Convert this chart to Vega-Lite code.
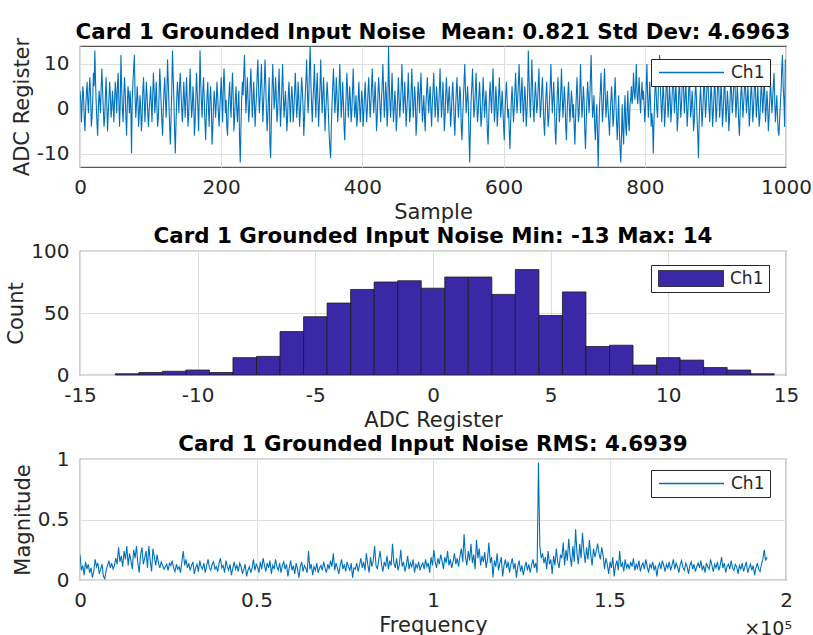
{
"$schema": "https://vega.github.io/schema/vega-lite/v6.json",
"background": "white",
"padding": {"left": 5, "top": 21, "right": 5, "bottom": 5},
"bounds": "flush",
"spacing": 84,
"resolve": {"scale": {"color": "independent"}, "legend": {"color": "independent"}},
"config": {
  "font": "DejaVu Sans",
  "view": {"stroke": "#595959", "strokeWidth": 1.2},
  "axis": {"labelFont": "DejaVu Sans", "labelFontSize": 20, "labelColor": "#262626", "titleFont": "DejaVu Sans", "titleFontSize": 21, "titleFontWeight": "normal", "titleColor": "#262626", "domain": false, "ticks": false, "gridColor": "#dedede", "gridWidth": 1, "labelFlush": false, "labelOverlap": false, "labelExpr": "'' + datum.value"},
  "axisX": {"labelPadding": 10, "titlePadding": 4},
  "axisY": {"labelPadding": 11, "titlePadding": 4},
  "title": {"font": "DejaVu Sans", "fontSize": 21.4, "fontWeight": "bold", "color": "#000000", "offset": -6, "anchor": "middle", "frame": "group"},
  "legend": {"orient": "none", "fillColor": "white", "strokeColor": "#262626", "padding": 5, "clipHeight": 17, "labelFont": "DejaVu Sans", "labelFontSize": 17, "labelColor": "#262626", "labelOffset": 6, "symbolOffset": 2, "symbolSize": 4225, "title": null, "labelExpr": "datum.label + '\u00a0\u00a0'"}
},
"datasets": {
"ts": [
{"s":0,"v":4},{"s":1,"v":2},{"s":2,"v":-3},{"s":3,"v":1},{"s":4,"v":5},{"s":5,"v":3},{"s":6,"v":-2},{"s":7,"v":-5},{"s":8,"v":0},{"s":9,"v":3},
{"s":10,"v":6},{"s":11,"v":2},{"s":12,"v":-1},{"s":13,"v":4},{"s":14,"v":7},{"s":15,"v":3},{"s":16,"v":-4},{"s":17,"v":-2},{"s":18,"v":2},{"s":19,"v":8},
{"s":20,"v":5},{"s":21,"v":13},{"s":22,"v":6},{"s":23,"v":1},{"s":24,"v":-3},{"s":25,"v":-6},{"s":26,"v":0},{"s":27,"v":4},{"s":28,"v":2},{"s":29,"v":-1},
{"s":30,"v":5},{"s":31,"v":9},{"s":32,"v":4},{"s":33,"v":0},{"s":34,"v":-4},{"s":35,"v":-2},{"s":36,"v":3},{"s":37,"v":7},{"s":38,"v":1},{"s":39,"v":-5},
{"s":40,"v":-1},{"s":41,"v":2},{"s":42,"v":6},{"s":43,"v":3},{"s":44,"v":-2},{"s":45,"v":0},{"s":46,"v":4},{"s":47,"v":1},{"s":48,"v":-3},{"s":49,"v":2},
{"s":50,"v":6},{"s":51,"v":3},{"s":52,"v":-1},{"s":53,"v":5},{"s":54,"v":8},{"s":55,"v":2},{"s":56,"v":-4},{"s":57,"v":1},{"s":58,"v":12},{"s":59,"v":5},
{"s":60,"v":0},{"s":61,"v":-3},{"s":62,"v":2},{"s":63,"v":7},{"s":64,"v":4},{"s":65,"v":-2},{"s":66,"v":-6},{"s":67,"v":1},{"s":68,"v":5},{"s":69,"v":3},
{"s":70,"v":-1},{"s":71,"v":4},{"s":72,"v":0},{"s":73,"v":-10},{"s":74,"v":2},{"s":75,"v":6},{"s":76,"v":9},{"s":77,"v":12},{"s":78,"v":3},{"s":79,"v":-2},
{"s":80,"v":1},{"s":81,"v":5},{"s":82,"v":2},{"s":83,"v":-4},{"s":84,"v":-1},{"s":85,"v":3},{"s":86,"v":0},{"s":87,"v":-5},{"s":88,"v":-2},{"s":89,"v":4},
{"s":90,"v":7},{"s":91,"v":2},{"s":92,"v":-3},{"s":93,"v":1},{"s":94,"v":6},{"s":95,"v":3},{"s":96,"v":-1},{"s":97,"v":-4},{"s":98,"v":0},{"s":99,"v":2},
{"s":100,"v":5},{"s":101,"v":1},{"s":102,"v":-3},{"s":103,"v":3},{"s":104,"v":8},{"s":105,"v":4},{"s":106,"v":-1},{"s":107,"v":2},{"s":108,"v":6},{"s":109,"v":0},
{"s":110,"v":-4},{"s":111,"v":-2},{"s":112,"v":3},{"s":113,"v":9},{"s":114,"v":5},{"s":115,"v":1},{"s":116,"v":-3},{"s":117,"v":-6},{"s":118,"v":0},{"s":119,"v":4},
{"s":120,"v":7},{"s":121,"v":2},{"s":122,"v":-2},{"s":123,"v":3},{"s":124,"v":11},{"s":125,"v":6},{"s":126,"v":1},{"s":127,"v":-4},{"s":128,"v":-8},{"s":129,"v":-2},
{"s":130,"v":4},{"s":131,"v":13},{"s":132,"v":7},{"s":133,"v":2},{"s":134,"v":-5},{"s":135,"v":-10},{"s":136,"v":-3},{"s":137,"v":2},{"s":138,"v":6},{"s":139,"v":3},
{"s":140,"v":-1},{"s":141,"v":5},{"s":142,"v":8},{"s":143,"v":4},{"s":144,"v":0},{"s":145,"v":-3},{"s":146,"v":1},{"s":147,"v":6},{"s":148,"v":2},{"s":149,"v":-2},
{"s":150,"v":3},{"s":151,"v":7},{"s":152,"v":1},{"s":153,"v":-4},{"s":154,"v":-1},{"s":155,"v":4},{"s":156,"v":9},{"s":157,"v":3},{"s":158,"v":-2},{"s":159,"v":0},
{"s":160,"v":5},{"s":161,"v":2},{"s":162,"v":-6},{"s":163,"v":-3},{"s":164,"v":2},{"s":165,"v":8},{"s":166,"v":4},{"s":167,"v":0},{"s":168,"v":-5},{"s":169,"v":3},
{"s":170,"v":13},{"s":171,"v":6},{"s":172,"v":1},{"s":173,"v":-2},{"s":174,"v":4},{"s":175,"v":7},{"s":176,"v":2},{"s":177,"v":-3},{"s":178,"v":-7},{"s":179,"v":-1},
{"s":180,"v":3},{"s":181,"v":6},{"s":182,"v":0},{"s":183,"v":-4},{"s":184,"v":2},{"s":185,"v":5},{"s":186,"v":1},{"s":187,"v":-8},{"s":188,"v":-5},{"s":189,"v":0},
{"s":190,"v":4},{"s":191,"v":2},{"s":192,"v":-2},{"s":193,"v":1},{"s":194,"v":6},{"s":195,"v":3},{"s":196,"v":-1},{"s":197,"v":-4},{"s":198,"v":0},{"s":199,"v":3},
{"s":200,"v":7},{"s":201,"v":2},{"s":202,"v":-3},{"s":203,"v":5},{"s":204,"v":9},{"s":205,"v":4},{"s":206,"v":-1},{"s":207,"v":2},{"s":208,"v":-4},{"s":209,"v":-6},
{"s":210,"v":0},{"s":211,"v":3},{"s":212,"v":6},{"s":213,"v":1},{"s":214,"v":-2},{"s":215,"v":4},{"s":216,"v":8},{"s":217,"v":3},{"s":218,"v":-5},{"s":219,"v":-2},
{"s":220,"v":2},{"s":221,"v":5},{"s":222,"v":0},{"s":223,"v":-3},{"s":224,"v":1},{"s":225,"v":4},{"s":226,"v":-7},{"s":227,"v":-12},{"s":228,"v":-4},{"s":229,"v":2},
{"s":230,"v":6},{"s":231,"v":3},{"s":232,"v":8},{"s":233,"v":12},{"s":234,"v":5},{"s":235,"v":-1},{"s":236,"v":3},{"s":237,"v":7},{"s":238,"v":2},{"s":239,"v":-3},
{"s":240,"v":0},{"s":241,"v":5},{"s":242,"v":9},{"s":243,"v":4},{"s":244,"v":-2},{"s":245,"v":1},{"s":246,"v":6},{"s":247,"v":2},{"s":248,"v":-4},{"s":249,"v":0},
{"s":250,"v":3},{"s":251,"v":8},{"s":252,"v":11},{"s":253,"v":4},{"s":254,"v":-1},{"s":255,"v":2},{"s":256,"v":6},{"s":257,"v":10},{"s":258,"v":3},{"s":259,"v":-3},
{"s":260,"v":1},{"s":261,"v":5},{"s":262,"v":11},{"s":263,"v":6},{"s":264,"v":0},{"s":265,"v":-5},{"s":266,"v":-2},{"s":267,"v":3},{"s":268,"v":7},{"s":269,"v":-8},
{"s":270,"v":-11},{"s":271,"v":-3},{"s":272,"v":4},{"s":273,"v":10},{"s":274,"v":5},{"s":275,"v":0},{"s":276,"v":2},{"s":277,"v":7},{"s":278,"v":3},{"s":279,"v":-3},
{"s":280,"v":-1},{"s":281,"v":4},{"s":282,"v":9},{"s":283,"v":2},{"s":284,"v":-4},{"s":285,"v":0},{"s":286,"v":5},{"s":287,"v":10},{"s":288,"v":3},{"s":289,"v":-2},
{"s":290,"v":1},{"s":291,"v":4},{"s":292,"v":0},{"s":293,"v":-5},{"s":294,"v":-2},{"s":295,"v":3},{"s":296,"v":6},{"s":297,"v":1},{"s":298,"v":-3},{"s":299,"v":2},
{"s":300,"v":5},{"s":301,"v":2},{"s":302,"v":-3},{"s":303,"v":0},{"s":304,"v":4},{"s":305,"v":8},{"s":306,"v":3},{"s":307,"v":-2},{"s":308,"v":1},{"s":309,"v":6},
{"s":310,"v":2},{"s":311,"v":-4},{"s":312,"v":-1},{"s":313,"v":3},{"s":314,"v":7},{"s":315,"v":4},{"s":316,"v":0},{"s":317,"v":-6},{"s":318,"v":-2},{"s":319,"v":3},
{"s":320,"v":6},{"s":321,"v":11},{"s":322,"v":5},{"s":323,"v":-1},{"s":324,"v":2},{"s":325,"v":9},{"s":326,"v":14},{"s":327,"v":6},{"s":328,"v":1},{"s":329,"v":-3},
{"s":330,"v":2},{"s":331,"v":5},{"s":332,"v":10},{"s":333,"v":3},{"s":334,"v":-2},{"s":335,"v":4},{"s":336,"v":8},{"s":337,"v":2},{"s":338,"v":-4},{"s":339,"v":1},
{"s":340,"v":5},{"s":341,"v":11},{"s":342,"v":4},{"s":343,"v":-1},{"s":344,"v":3},{"s":345,"v":7},{"s":346,"v":2},{"s":347,"v":-5},{"s":348,"v":-1},{"s":349,"v":2},
{"s":350,"v":6},{"s":351,"v":3},{"s":352,"v":-2},{"s":353,"v":-6},{"s":354,"v":-9},{"s":355,"v":-11},{"s":356,"v":-4},{"s":357,"v":1},{"s":358,"v":5},{"s":359,"v":9},
{"s":360,"v":4},{"s":361,"v":-1},{"s":362,"v":2},{"s":363,"v":7},{"s":364,"v":3},{"s":365,"v":-3},{"s":366,"v":0},{"s":367,"v":5},{"s":368,"v":10},{"s":369,"v":4},
{"s":370,"v":-2},{"s":371,"v":1},{"s":372,"v":6},{"s":373,"v":2},{"s":374,"v":-4},{"s":375,"v":-7},{"s":376,"v":-1},{"s":377,"v":3},{"s":378,"v":8},{"s":379,"v":4},
{"s":380,"v":-2},{"s":381,"v":1},{"s":382,"v":5},{"s":383,"v":2},{"s":384,"v":-3},{"s":385,"v":-1},{"s":386,"v":4},{"s":387,"v":9},{"s":388,"v":3},{"s":389,"v":-2},
{"s":390,"v":0},{"s":391,"v":3},{"s":392,"v":-4},{"s":393,"v":-2},{"s":394,"v":2},{"s":395,"v":6},{"s":396,"v":1},{"s":397,"v":-3},{"s":398,"v":0},{"s":399,"v":4},
{"s":400,"v":2},{"s":401,"v":-4},{"s":402,"v":-1},{"s":403,"v":3},{"s":404,"v":6},{"s":405,"v":1},{"s":406,"v":-3},{"s":407,"v":0},{"s":408,"v":4},{"s":409,"v":7},
{"s":410,"v":2},{"s":411,"v":-2},{"s":412,"v":1},{"s":413,"v":5},{"s":414,"v":9},{"s":415,"v":3},{"s":416,"v":-1},{"s":417,"v":2},{"s":418,"v":6},{"s":419,"v":1},
{"s":420,"v":-5},{"s":421,"v":-2},{"s":422,"v":3},{"s":423,"v":7},{"s":424,"v":4},{"s":425,"v":0},{"s":426,"v":-3},{"s":427,"v":2},{"s":428,"v":5},{"s":429,"v":10},
{"s":430,"v":4},{"s":431,"v":-2},{"s":432,"v":1},{"s":433,"v":6},{"s":434,"v":3},{"s":435,"v":-4},{"s":436,"v":-1},{"s":437,"v":14},{"s":438,"v":6},{"s":439,"v":1},
{"s":440,"v":-2},{"s":441,"v":3},{"s":442,"v":8},{"s":443,"v":2},{"s":444,"v":-3},{"s":445,"v":0},{"s":446,"v":4},{"s":447,"v":1},{"s":448,"v":-5},{"s":449,"v":-2},
{"s":450,"v":3},{"s":451,"v":7},{"s":452,"v":2},{"s":453,"v":-2},{"s":454,"v":1},{"s":455,"v":5},{"s":456,"v":10},{"s":457,"v":4},{"s":458,"v":-1},{"s":459,"v":2},
{"s":460,"v":6},{"s":461,"v":1},{"s":462,"v":-4},{"s":463,"v":0},{"s":464,"v":3},{"s":465,"v":8},{"s":466,"v":2},{"s":467,"v":-3},{"s":468,"v":-1},{"s":469,"v":4},
{"s":470,"v":9},{"s":471,"v":3},{"s":472,"v":-2},{"s":473,"v":1},{"s":474,"v":5},{"s":475,"v":2},{"s":476,"v":-6},{"s":477,"v":-3},{"s":478,"v":2},{"s":479,"v":6},
{"s":480,"v":3},{"s":481,"v":-1},{"s":482,"v":4},{"s":483,"v":8},{"s":484,"v":2},{"s":485,"v":-3},{"s":486,"v":0},{"s":487,"v":3},{"s":488,"v":-2},{"s":489,"v":-5},
{"s":490,"v":1},{"s":491,"v":4},{"s":492,"v":7},{"s":493,"v":2},{"s":494,"v":-1},{"s":495,"v":3},{"s":496,"v":5},{"s":497,"v":0},{"s":498,"v":-4},{"s":499,"v":1},
{"s":500,"v":4},{"s":501,"v":8},{"s":502,"v":3},{"s":503,"v":-2},{"s":504,"v":1},{"s":505,"v":5},{"s":506,"v":2},{"s":507,"v":-3},{"s":508,"v":0},{"s":509,"v":4},
{"s":510,"v":9},{"s":511,"v":3},{"s":512,"v":-2},{"s":513,"v":1},{"s":514,"v":6},{"s":515,"v":2},{"s":516,"v":-5},{"s":517,"v":-2},{"s":518,"v":3},{"s":519,"v":7},
{"s":520,"v":3},{"s":521,"v":-1},{"s":522,"v":2},{"s":523,"v":5},{"s":524,"v":1},{"s":525,"v":-4},{"s":526,"v":-1},{"s":527,"v":3},{"s":528,"v":6},{"s":529,"v":2},
{"s":530,"v":-3},{"s":531,"v":-6},{"s":532,"v":0},{"s":533,"v":4},{"s":534,"v":7},{"s":535,"v":2},{"s":536,"v":-2},{"s":537,"v":1},{"s":538,"v":5},{"s":539,"v":3},
{"s":540,"v":-4},{"s":541,"v":-7},{"s":542,"v":-2},{"s":543,"v":2},{"s":544,"v":6},{"s":545,"v":10},{"s":546,"v":4},{"s":547,"v":-1},{"s":548,"v":2},{"s":549,"v":5},
{"s":550,"v":1},{"s":551,"v":-6},{"s":552,"v":-12},{"s":553,"v":-4},{"s":554,"v":2},{"s":555,"v":5},{"s":556,"v":9},{"s":557,"v":3},{"s":558,"v":-2},{"s":559,"v":0},
{"s":560,"v":4},{"s":561,"v":8},{"s":562,"v":2},{"s":563,"v":-3},{"s":564,"v":-1},{"s":565,"v":3},{"s":566,"v":6},{"s":567,"v":1},{"s":568,"v":-4},{"s":569,"v":-2},
{"s":570,"v":2},{"s":571,"v":7},{"s":572,"v":3},{"s":573,"v":-2},{"s":574,"v":1},{"s":575,"v":4},{"s":576,"v":0},{"s":577,"v":-5},{"s":578,"v":-8},{"s":579,"v":-2},
{"s":580,"v":3},{"s":581,"v":6},{"s":582,"v":2},{"s":583,"v":-1},{"s":584,"v":4},{"s":585,"v":9},{"s":586,"v":3},{"s":587,"v":-3},{"s":588,"v":0},{"s":589,"v":5},
{"s":590,"v":2},{"s":591,"v":-4},{"s":592,"v":-1},{"s":593,"v":3},{"s":594,"v":7},{"s":595,"v":2},{"s":596,"v":-2},{"s":597,"v":1},{"s":598,"v":4},{"s":599,"v":0},
{"s":600,"v":-4},{"s":601,"v":-7},{"s":602,"v":-1},{"s":603,"v":3},{"s":604,"v":6},{"s":605,"v":2},{"s":606,"v":-2},{"s":607,"v":0},{"s":608,"v":-5},{"s":609,"v":-9},
{"s":610,"v":-3},{"s":611,"v":2},{"s":612,"v":5},{"s":613,"v":1},{"s":614,"v":-3},{"s":615,"v":0},{"s":616,"v":4},{"s":617,"v":8},{"s":618,"v":3},{"s":619,"v":-1},
{"s":620,"v":2},{"s":621,"v":6},{"s":622,"v":10},{"s":623,"v":4},{"s":624,"v":-1},{"s":625,"v":3},{"s":626,"v":7},{"s":627,"v":2},{"s":628,"v":-3},{"s":629,"v":1},
{"s":630,"v":5},{"s":631,"v":2},{"s":632,"v":-4},{"s":633,"v":-1},{"s":634,"v":3},{"s":635,"v":13},{"s":636,"v":7},{"s":637,"v":2},{"s":638,"v":-2},{"s":639,"v":4},
{"s":640,"v":11},{"s":641,"v":5},{"s":642,"v":0},{"s":643,"v":-3},{"s":644,"v":2},{"s":645,"v":6},{"s":646,"v":3},{"s":647,"v":-1},{"s":648,"v":1},{"s":649,"v":5},
{"s":650,"v":9},{"s":651,"v":3},{"s":652,"v":-2},{"s":653,"v":0},{"s":654,"v":4},{"s":655,"v":7},{"s":656,"v":2},{"s":657,"v":-3},{"s":658,"v":-6},{"s":659,"v":-1},
{"s":660,"v":3},{"s":661,"v":6},{"s":662,"v":1},{"s":663,"v":-4},{"s":664,"v":-2},{"s":665,"v":2},{"s":666,"v":5},{"s":667,"v":10},{"s":668,"v":4},{"s":669,"v":-1},
{"s":670,"v":2},{"s":671,"v":6},{"s":672,"v":1},{"s":673,"v":-5},{"s":674,"v":-8},{"s":675,"v":-2},{"s":676,"v":3},{"s":677,"v":7},{"s":678,"v":2},{"s":679,"v":-3},
{"s":680,"v":0},{"s":681,"v":4},{"s":682,"v":9},{"s":683,"v":3},{"s":684,"v":-2},{"s":685,"v":1},{"s":686,"v":5},{"s":687,"v":2},{"s":688,"v":-4},{"s":689,"v":-7},
{"s":690,"v":-1},{"s":691,"v":3},{"s":692,"v":6},{"s":693,"v":1},{"s":694,"v":-3},{"s":695,"v":0},{"s":696,"v":4},{"s":697,"v":2},{"s":698,"v":-2},{"s":699,"v":1},
{"s":700,"v":-4},{"s":701,"v":-8},{"s":702,"v":-2},{"s":703,"v":3},{"s":704,"v":7},{"s":705,"v":2},{"s":706,"v":-3},{"s":707,"v":-1},{"s":708,"v":4},{"s":709,"v":10},
{"s":710,"v":3},{"s":711,"v":-2},{"s":712,"v":1},{"s":713,"v":5},{"s":714,"v":2},{"s":715,"v":-5},{"s":716,"v":-9},{"s":717,"v":-3},{"s":718,"v":2},{"s":719,"v":6},
{"s":720,"v":3},{"s":721,"v":-1},{"s":722,"v":2},{"s":723,"v":7},{"s":724,"v":12},{"s":725,"v":4},{"s":726,"v":-2},{"s":727,"v":0},{"s":728,"v":3},{"s":729,"v":-4},
{"s":730,"v":-7},{"s":731,"v":-2},{"s":732,"v":1},{"s":733,"v":-6},{"s":734,"v":-13},{"s":735,"v":-5},{"s":736,"v":1},{"s":737,"v":4},{"s":738,"v":8},{"s":739,"v":2},
{"s":740,"v":-3},{"s":741,"v":0},{"s":742,"v":5},{"s":743,"v":9},{"s":744,"v":3},{"s":745,"v":-2},{"s":746,"v":1},{"s":747,"v":4},{"s":748,"v":0},{"s":749,"v":-3},
{"s":750,"v":-6},{"s":751,"v":-1},{"s":752,"v":2},{"s":753,"v":5},{"s":754,"v":1},{"s":755,"v":-4},{"s":756,"v":-2},{"s":757,"v":3},{"s":758,"v":7},{"s":759,"v":2},
{"s":760,"v":-3},{"s":761,"v":-7},{"s":762,"v":-2},{"s":763,"v":3},{"s":764,"v":-5},{"s":765,"v":-9},{"s":766,"v":-12},{"s":767,"v":-6},{"s":768,"v":1},{"s":769,"v":-5},
{"s":770,"v":-8},{"s":771,"v":-1},{"s":772,"v":3},{"s":773,"v":-4},{"s":774,"v":-6},{"s":775,"v":0},{"s":776,"v":4},{"s":777,"v":-3},{"s":778,"v":-5},{"s":779,"v":1},
{"s":780,"v":2},{"s":781,"v":5},{"s":782,"v":1},{"s":783,"v":3},{"s":784,"v":8},{"s":785,"v":4},{"s":786,"v":2},{"s":787,"v":5},{"s":788,"v":10},{"s":789,"v":3},
{"s":790,"v":1},{"s":791,"v":4},{"s":792,"v":7},{"s":793,"v":2},{"s":794,"v":-1},{"s":795,"v":3},{"s":796,"v":6},{"s":797,"v":2},{"s":798,"v":4},{"s":799,"v":1},
{"s":800,"v":-3},{"s":801,"v":0},{"s":802,"v":5},{"s":803,"v":10},{"s":804,"v":3},{"s":805,"v":-2},{"s":806,"v":1},{"s":807,"v":6},{"s":808,"v":2},{"s":809,"v":-4},
{"s":810,"v":-1},{"s":811,"v":-3},{"s":812,"v":-10},{"s":813,"v":-3},{"s":814,"v":2},{"s":815,"v":7},{"s":816,"v":4},{"s":817,"v":0},{"s":818,"v":-2},{"s":819,"v":3},
{"s":820,"v":8},{"s":821,"v":12},{"s":822,"v":5},{"s":823,"v":1},{"s":824,"v":-3},{"s":825,"v":2},{"s":826,"v":6},{"s":827,"v":2},{"s":828,"v":-4},{"s":829,"v":-1},
{"s":830,"v":4},{"s":831,"v":9},{"s":832,"v":3},{"s":833,"v":-2},{"s":834,"v":1},{"s":835,"v":5},{"s":836,"v":2},{"s":837,"v":-3},{"s":838,"v":0},{"s":839,"v":4},
{"s":840,"v":10},{"s":841,"v":4},{"s":842,"v":-1},{"s":843,"v":2},{"s":844,"v":6},{"s":845,"v":1},{"s":846,"v":-5},{"s":847,"v":-2},{"s":848,"v":3},{"s":849,"v":7},
{"s":850,"v":2},{"s":851,"v":-2},{"s":852,"v":1},{"s":853,"v":5},{"s":854,"v":11},{"s":855,"v":4},{"s":856,"v":-1},{"s":857,"v":2},{"s":858,"v":6},{"s":859,"v":2},
{"s":860,"v":-4},{"s":861,"v":-1},{"s":862,"v":3},{"s":863,"v":8},{"s":864,"v":3},{"s":865,"v":-2},{"s":866,"v":0},{"s":867,"v":4},{"s":868,"v":1},{"s":869,"v":-5},
{"s":870,"v":-3},{"s":871,"v":2},{"s":872,"v":6},{"s":873,"v":3},{"s":874,"v":-2},{"s":875,"v":-6},{"s":876,"v":-11},{"s":877,"v":-3},{"s":878,"v":2},{"s":879,"v":5},
{"s":880,"v":1},{"s":881,"v":-4},{"s":882,"v":-1},{"s":883,"v":3},{"s":884,"v":8},{"s":885,"v":3},{"s":886,"v":-2},{"s":887,"v":1},{"s":888,"v":5},{"s":889,"v":11},
{"s":890,"v":4},{"s":891,"v":0},{"s":892,"v":-3},{"s":893,"v":2},{"s":894,"v":6},{"s":895,"v":2},{"s":896,"v":-4},{"s":897,"v":-1},{"s":898,"v":3},{"s":899,"v":7},
{"s":900,"v":2},{"s":901,"v":-3},{"s":902,"v":0},{"s":903,"v":5},{"s":904,"v":9},{"s":905,"v":3},{"s":906,"v":-2},{"s":907,"v":1},{"s":908,"v":6},{"s":909,"v":2},
{"s":910,"v":-4},{"s":911,"v":-1},{"s":912,"v":3},{"s":913,"v":8},{"s":914,"v":2},{"s":915,"v":-3},{"s":916,"v":0},{"s":917,"v":4},{"s":918,"v":1},{"s":919,"v":-5},
{"s":920,"v":-2},{"s":921,"v":3},{"s":922,"v":7},{"s":923,"v":3},{"s":924,"v":-1},{"s":925,"v":2},{"s":926,"v":5},{"s":927,"v":10},{"s":928,"v":4},{"s":929,"v":-2},
{"s":930,"v":1},{"s":931,"v":5},{"s":932,"v":2},{"s":933,"v":-3},{"s":934,"v":-6},{"s":935,"v":-1},{"s":936,"v":3},{"s":937,"v":6},{"s":938,"v":2},{"s":939,"v":-2},
{"s":940,"v":1},{"s":941,"v":4},{"s":942,"v":8},{"s":943,"v":3},{"s":944,"v":-1},{"s":945,"v":2},{"s":946,"v":5},{"s":947,"v":1},{"s":948,"v":-4},{"s":949,"v":-1},
{"s":950,"v":3},{"s":951,"v":6},{"s":952,"v":2},{"s":953,"v":-3},{"s":954,"v":0},{"s":955,"v":4},{"s":956,"v":9},{"s":957,"v":3},{"s":958,"v":-2},{"s":959,"v":1},
{"s":960,"v":5},{"s":961,"v":1},{"s":962,"v":-4},{"s":963,"v":-2},{"s":964,"v":2},{"s":965,"v":6},{"s":966,"v":3},{"s":967,"v":-1},{"s":968,"v":2},{"s":969,"v":7},
{"s":970,"v":3},{"s":971,"v":-3},{"s":972,"v":0},{"s":973,"v":4},{"s":974,"v":1},{"s":975,"v":-5},{"s":976,"v":-2},{"s":977,"v":2},{"s":978,"v":6},{"s":979,"v":3},
{"s":980,"v":-1},{"s":981,"v":2},{"s":982,"v":5},{"s":983,"v":8},{"s":984,"v":2},{"s":985,"v":-3},{"s":986,"v":0},{"s":987,"v":3},{"s":988,"v":-2},{"s":989,"v":-5},
{"s":990,"v":-6},{"s":991,"v":-2},{"s":992,"v":1},{"s":993,"v":4},{"s":994,"v":9},{"s":995,"v":12},{"s":996,"v":5},{"s":997,"v":2},{"s":998,"v":-4},{"s":999,"v":11}
],
"hist": [
{"lo":-13.5,"hi":-12.5,"c":1},{"lo":-12.5,"hi":-11.5,"c":2},{"lo":-11.5,"hi":-10.5,"c":3},{"lo":-10.5,"hi":-9.5,"c":4},{"lo":-9.5,"hi":-8.5,"c":2},
{"lo":-8.5,"hi":-7.5,"c":14},{"lo":-7.5,"hi":-6.5,"c":15},{"lo":-6.5,"hi":-5.5,"c":35},{"lo":-5.5,"hi":-4.5,"c":47},{"lo":-4.5,"hi":-3.5,"c":58},
{"lo":-3.5,"hi":-2.5,"c":69},{"lo":-2.5,"hi":-1.5,"c":75},{"lo":-1.5,"hi":-0.5,"c":76},{"lo":-0.5,"hi":0.5,"c":70},{"lo":0.5,"hi":1.5,"c":79},
{"lo":1.5,"hi":2.5,"c":79},{"lo":2.5,"hi":3.5,"c":65},{"lo":3.5,"hi":4.5,"c":85},{"lo":4.5,"hi":5.5,"c":48},{"lo":5.5,"hi":6.5,"c":67},
{"lo":6.5,"hi":7.5,"c":23},{"lo":7.5,"hi":8.5,"c":24},{"lo":8.5,"hi":9.5,"c":8},{"lo":9.5,"hi":10.5,"c":14},{"lo":10.5,"hi":11.5,"c":12},
{"lo":11.5,"hi":12.5,"c":6},{"lo":12.5,"hi":13.5,"c":4},{"lo":13.5,"hi":14.5,"c":1}
],
"fft": [
{"f":0,"m":0.21},{"f":390,"m":0.08},{"f":780,"m":0.12},{"f":1170,"m":0.04},{"f":1560,"m":0.15},{"f":1950,"m":0.09},{"f":2340,"m":0.13},{"f":2730,"m":0.06},{"f":3120,"m":0.10},{"f":3510,"m":0.02},{"f":3900,"m":0.07},{"f":4290,"m":0.17},{"f":4680,"m":0.11},{"f":5070,"m":0.14},{"f":5460,"m":0.05},{"f":5850,"m":0.09},{"f":6240,"m":0.13},{"f":6630,"m":0.03},{"f":7020,"m":0.01},{"f":7410,"m":0.08},{"f":7800,"m":0.12},{"f":8190,"m":0.16},{"f":8580,"m":0.10},{"f":8970,"m":0.14},{"f":9360,"m":0.09},
{"f":9750,"m":0.12},{"f":10140,"m":0.18},{"f":10530,"m":0.13},{"f":10920,"m":0.27},{"f":11310,"m":0.15},{"f":11700,"m":0.20},{"f":12090,"m":0.11},{"f":12480,"m":0.24},{"f":12870,"m":0.17},{"f":13260,"m":0.28},{"f":13650,"m":0.12},{"f":14040,"m":0.22},{"f":14430,"m":0.16},{"f":14820,"m":0.09},{"f":15210,"m":0.25},{"f":15600,"m":0.18},{"f":15990,"m":0.28},{"f":16380,"m":0.14},{"f":16770,"m":0.06},{"f":17160,"m":0.21},{"f":17550,"m":0.27},{"f":17940,"m":0.13},{"f":18330,"m":0.18},{"f":18720,"m":0.24},{"f":19110,"m":0.10},
{"f":19500,"m":0.28},{"f":19890,"m":0.16},{"f":20280,"m":0.07},{"f":20670,"m":0.26},{"f":21060,"m":0.19},{"f":21450,"m":0.12},{"f":21840,"m":0.21},{"f":22230,"m":0.14},{"f":22620,"m":0.10},{"f":23010,"m":0.15},{"f":23400,"m":0.12},{"f":23790,"m":0.09},{"f":24180,"m":0.11},{"f":24570,"m":0.13},{"f":24960,"m":0.08},{"f":25350,"m":0.14},{"f":25740,"m":0.12},{"f":26130,"m":0.16},{"f":26520,"m":0.10},{"f":26910,"m":0.07},{"f":27300,"m":0.13},{"f":27690,"m":0.09},{"f":28080,"m":0.11},{"f":28470,"m":0.06},{"f":28860,"m":0.15},
{"f":29250,"m":0.24},{"f":29640,"m":0.12},{"f":30030,"m":0.17},{"f":30420,"m":0.10},{"f":30810,"m":0.14},{"f":31200,"m":0.08},{"f":31590,"m":0.12},{"f":31980,"m":0.15},{"f":32370,"m":0.05},{"f":32760,"m":0.10},{"f":33150,"m":0.13},{"f":33540,"m":0.07},{"f":33930,"m":0.16},{"f":34320,"m":0.11},{"f":34710,"m":0.09},{"f":35100,"m":0.14},{"f":35490,"m":0.06},{"f":35880,"m":0.12},{"f":36270,"m":0.17},{"f":36660,"m":0.10},{"f":37050,"m":0.08},{"f":37440,"m":0.13},{"f":37830,"m":0.15},{"f":38220,"m":0.09},{"f":38610,"m":0.11},
{"f":39000,"m":0.07},{"f":39390,"m":0.14},{"f":39780,"m":0.18},{"f":40170,"m":0.10},{"f":40560,"m":0.12},{"f":40950,"m":0.06},{"f":41340,"m":0.16},{"f":41730,"m":0.11},{"f":42120,"m":0.08},{"f":42510,"m":0.13},{"f":42900,"m":0.04},{"f":43290,"m":0.10},{"f":43680,"m":0.15},{"f":44070,"m":0.09},{"f":44460,"m":0.12},{"f":44850,"m":0.07},{"f":45240,"m":0.14},{"f":45630,"m":0.11},{"f":46020,"m":0.05},{"f":46410,"m":0.09},{"f":46800,"m":0.13},{"f":47190,"m":0.03},{"f":47580,"m":0.08},{"f":47970,"m":0.11},{"f":48360,"m":0.06},
{"f":48750,"m":0.10},{"f":49140,"m":0.17},{"f":49530,"m":0.08},{"f":49920,"m":0.13},{"f":50310,"m":0.11},{"f":50700,"m":0.06},{"f":51090,"m":0.15},{"f":51480,"m":0.09},{"f":51870,"m":0.18},{"f":52260,"m":0.12},{"f":52650,"m":0.07},{"f":53040,"m":0.14},{"f":53430,"m":0.10},{"f":53820,"m":0.16},{"f":54210,"m":0.05},{"f":54600,"m":0.12},{"f":54990,"m":0.09},{"f":55380,"m":0.17},{"f":55770,"m":0.11},{"f":56160,"m":0.08},{"f":56550,"m":0.14},{"f":56940,"m":0.06},{"f":57330,"m":0.12},{"f":57720,"m":0.15},{"f":58110,"m":0.09},
{"f":58500,"m":0.13},{"f":58890,"m":0.03},{"f":59280,"m":0.10},{"f":59670,"m":0.16},{"f":60060,"m":0.08},{"f":60450,"m":0.12},{"f":60840,"m":0.05},{"f":61230,"m":0.14},{"f":61620,"m":0.09},{"f":62010,"m":0.02},{"f":62400,"m":0.11},{"f":62790,"m":0.15},{"f":63180,"m":0.07},{"f":63570,"m":0.12},{"f":63960,"m":0.10},{"f":64350,"m":0.06},{"f":64740,"m":0.24},{"f":65130,"m":0.09},{"f":65520,"m":0.13},{"f":65910,"m":0.04},{"f":66300,"m":0.11},{"f":66690,"m":0.08},{"f":67080,"m":0.14},{"f":67470,"m":0.06},{"f":67860,"m":0.10},
{"f":68250,"m":0.12},{"f":68640,"m":0.08},{"f":69030,"m":0.15},{"f":69420,"m":0.10},{"f":69810,"m":0.06},{"f":70200,"m":0.13},{"f":70590,"m":0.09},{"f":70980,"m":0.16},{"f":71370,"m":0.11},{"f":71760,"m":0.22},{"f":72150,"m":0.08},{"f":72540,"m":0.14},{"f":72930,"m":0.10},{"f":73320,"m":0.05},{"f":73710,"m":0.12},{"f":74100,"m":0.17},{"f":74490,"m":0.09},{"f":74880,"m":0.13},{"f":75270,"m":0.07},{"f":75660,"m":0.15},{"f":76050,"m":0.11},{"f":76440,"m":0.08},{"f":76830,"m":0.14},{"f":77220,"m":0.02},{"f":77610,"m":0.10},
{"f":78000,"m":0.09},{"f":78390,"m":0.14},{"f":78780,"m":0.07},{"f":79170,"m":0.12},{"f":79560,"m":0.18},{"f":79950,"m":0.10},{"f":80340,"m":0.15},{"f":80730,"m":0.08},{"f":81120,"m":0.22},{"f":81510,"m":0.13},{"f":81900,"m":0.06},{"f":82290,"m":0.19},{"f":82680,"m":0.11},{"f":83070,"m":0.16},{"f":83460,"m":0.28},{"f":83850,"m":0.12},{"f":84240,"m":0.09},{"f":84630,"m":0.17},{"f":85020,"m":0.24},{"f":85410,"m":0.13},{"f":85800,"m":0.07},{"f":86190,"m":0.15},{"f":86580,"m":0.11},{"f":86970,"m":0.20},{"f":87360,"m":0.09},
{"f":87750,"m":0.16},{"f":88140,"m":0.12},{"f":88530,"m":0.30},{"f":88920,"m":0.14},{"f":89310,"m":0.10},{"f":89700,"m":0.18},{"f":90090,"m":0.08},{"f":90480,"m":0.13},{"f":90870,"m":0.25},{"f":91260,"m":0.11},{"f":91650,"m":0.15},{"f":92040,"m":0.07},{"f":92430,"m":0.12},{"f":92820,"m":0.20},{"f":93210,"m":0.09},{"f":93600,"m":0.14},{"f":93990,"m":0.11},{"f":94380,"m":0.17},{"f":94770,"m":0.06},{"f":95160,"m":0.13},{"f":95550,"m":0.10},{"f":95940,"m":0.15},{"f":96330,"m":0.08},{"f":96720,"m":0.12},{"f":97110,"m":0.14},
{"f":97500,"m":0.09},{"f":97890,"m":0.17},{"f":98280,"m":0.11},{"f":98670,"m":0.14},{"f":99060,"m":0.06},{"f":99450,"m":0.19},{"f":99840,"m":0.12},{"f":100230,"m":0.25},{"f":100620,"m":0.15},{"f":101010,"m":0.10},{"f":101400,"m":0.18},{"f":101790,"m":0.13},{"f":102180,"m":0.21},{"f":102570,"m":0.16},{"f":102960,"m":0.09},{"f":103350,"m":0.19},{"f":103740,"m":0.14},{"f":104130,"m":0.24},{"f":104520,"m":0.12},{"f":104910,"m":0.17},{"f":105300,"m":0.10},{"f":105690,"m":0.15},{"f":106080,"m":0.22},{"f":106470,"m":0.13},{"f":106860,"m":0.18},
{"f":107250,"m":0.11},{"f":107640,"m":0.20},{"f":108030,"m":0.26},{"f":108420,"m":0.15},{"f":108810,"m":0.38},{"f":109200,"m":0.19},{"f":109590,"m":0.12},{"f":109980,"m":0.24},{"f":110370,"m":0.16},{"f":110760,"m":0.30},{"f":111150,"m":0.14},{"f":111540,"m":0.21},{"f":111930,"m":0.09},{"f":112320,"m":0.33},{"f":112710,"m":0.18},{"f":113100,"m":0.26},{"f":113490,"m":0.12},{"f":113880,"m":0.20},{"f":114270,"m":0.15},{"f":114660,"m":0.23},{"f":115050,"m":0.10},{"f":115440,"m":0.17},{"f":115830,"m":0.31},{"f":116220,"m":0.14},{"f":116610,"m":0.19},
{"f":117000,"m":0.02},{"f":117390,"m":0.16},{"f":117780,"m":0.11},{"f":118170,"m":0.22},{"f":118560,"m":0.08},{"f":118950,"m":0.14},{"f":119340,"m":0.19},{"f":119730,"m":0.03},{"f":120120,"m":0.12},{"f":120510,"m":0.17},{"f":120900,"m":0.10},{"f":121290,"m":0.15},{"f":121680,"m":0.06},{"f":122070,"m":0.13},{"f":122460,"m":0.18},{"f":122850,"m":0.09},{"f":123240,"m":0.14},{"f":123630,"m":0.02},{"f":124020,"m":0.11},{"f":124410,"m":0.16},{"f":124800,"m":0.07},{"f":125190,"m":0.12},{"f":125580,"m":0.04},{"f":125970,"m":0.10},{"f":126360,"m":0.15},
{"f":126750,"m":0.08},{"f":127140,"m":0.13},{"f":127530,"m":0.06},{"f":127920,"m":0.12},{"f":128310,"m":0.17},{"f":128700,"m":0.10},{"f":129090,"m":0.14},{"f":129480,"m":0.06},{"f":129870,"m":0.97},{"f":130260,"m":0.28},{"f":130650,"m":0.18},{"f":131040,"m":0.22},{"f":131430,"m":0.14},{"f":131820,"m":0.19},{"f":132210,"m":0.09},{"f":132600,"m":0.24},{"f":132990,"m":0.13},{"f":133380,"m":0.17},{"f":133770,"m":0.05},{"f":134160,"m":0.20},{"f":134550,"m":0.12},{"f":134940,"m":0.26},{"f":135330,"m":0.15},{"f":135720,"m":0.10},{"f":136110,"m":0.21},
{"f":136500,"m":0.18},{"f":136890,"m":0.31},{"f":137280,"m":0.12},{"f":137670,"m":0.25},{"f":138060,"m":0.16},{"f":138450,"m":0.34},{"f":138840,"m":0.20},{"f":139230,"m":0.11},{"f":139620,"m":0.28},{"f":140010,"m":0.15},{"f":140400,"m":0.42},{"f":140790,"m":0.22},{"f":141180,"m":0.13},{"f":141570,"m":0.30},{"f":141960,"m":0.18},{"f":142350,"m":0.39},{"f":142740,"m":0.24},{"f":143130,"m":0.14},{"f":143520,"m":0.27},{"f":143910,"m":0.17},{"f":144300,"m":0.33},{"f":144690,"m":0.21},{"f":145080,"m":0.12},{"f":145470,"m":0.26},{"f":145860,"m":0.19},
{"f":146250,"m":0.24},{"f":146640,"m":0.30},{"f":147030,"m":0.22},{"f":147420,"m":0.17},{"f":147810,"m":0.27},{"f":148200,"m":0.20},{"f":148590,"m":0.09},{"f":148980,"m":0.18},{"f":149370,"m":0.13},{"f":149760,"m":0.05},{"f":150150,"m":0.15},{"f":150540,"m":0.10},{"f":150930,"m":0.19},{"f":151320,"m":0.03},{"f":151710,"m":0.12},{"f":152100,"m":0.16},{"f":152490,"m":0.08},{"f":152880,"m":0.24},{"f":153270,"m":0.11},{"f":153660,"m":0.14},{"f":154050,"m":0.07},{"f":154440,"m":0.17},{"f":154830,"m":0.10},{"f":155220,"m":0.13},{"f":155610,"m":0.09},
{"f":156000,"m":0.15},{"f":156390,"m":0.11},{"f":156780,"m":0.18},{"f":157170,"m":0.08},{"f":157560,"m":0.13},{"f":157950,"m":0.10},{"f":158340,"m":0.16},{"f":158730,"m":0.07},{"f":159120,"m":0.12},{"f":159510,"m":0.14},{"f":159900,"m":0.09},{"f":160290,"m":0.17},{"f":160680,"m":0.11},{"f":161070,"m":0.06},{"f":161460,"m":0.13},{"f":161850,"m":0.10},{"f":162240,"m":0.15},{"f":162630,"m":0.08},{"f":163020,"m":0.12},{"f":163410,"m":0.03},{"f":163800,"m":0.11},{"f":164190,"m":0.14},{"f":164580,"m":0.09},{"f":164970,"m":0.16},{"f":165360,"m":0.12},
{"f":165750,"m":0.07},{"f":166140,"m":0.13},{"f":166530,"m":0.10},{"f":166920,"m":0.15},{"f":167310,"m":0.08},{"f":167700,"m":0.12},{"f":168090,"m":0.17},{"f":168480,"m":0.09},{"f":168870,"m":0.14},{"f":169260,"m":0.11},{"f":169650,"m":0.06},{"f":170040,"m":0.13},{"f":170430,"m":0.16},{"f":170820,"m":0.10},{"f":171210,"m":0.08},{"f":171600,"m":0.14},{"f":171990,"m":0.11},{"f":172380,"m":0.05},{"f":172770,"m":0.12},{"f":173160,"m":0.15},{"f":173550,"m":0.09},{"f":173940,"m":0.13},{"f":174330,"m":0.07},{"f":174720,"m":0.11},{"f":175110,"m":0.14},
{"f":175500,"m":0.10},{"f":175890,"m":0.16},{"f":176280,"m":0.08},{"f":176670,"m":0.12},{"f":177060,"m":0.06},{"f":177450,"m":0.14},{"f":177840,"m":0.11},{"f":178230,"m":0.09},{"f":178620,"m":0.17},{"f":179010,"m":0.12},{"f":179400,"m":0.07},{"f":179790,"m":0.13},{"f":180180,"m":0.10},{"f":180570,"m":0.15},{"f":180960,"m":0.08},{"f":181350,"m":0.12},{"f":181740,"m":0.19},{"f":182130,"m":0.10},{"f":182520,"m":0.14},{"f":182910,"m":0.06},{"f":183300,"m":0.11},{"f":183690,"m":0.13},{"f":184080,"m":0.09},{"f":184470,"m":0.16},{"f":184860,"m":0.10},
{"f":185250,"m":0.08},{"f":185640,"m":0.13},{"f":186030,"m":0.11},{"f":186420,"m":0.05},{"f":186810,"m":0.12},{"f":187200,"m":0.09},{"f":187590,"m":0.14},{"f":187980,"m":0.07},{"f":188370,"m":0.11},{"f":188760,"m":0.15},{"f":189150,"m":0.06},{"f":189540,"m":0.10},{"f":189930,"m":0.13},{"f":190320,"m":0.08},{"f":190710,"m":0.12},{"f":191100,"m":0.04},{"f":191490,"m":0.10},{"f":191880,"m":0.14},{"f":192270,"m":0.09},{"f":192660,"m":0.07},{"f":193050,"m":0.13},{"f":193440,"m":0.17},{"f":193830,"m":0.25},{"f":194220,"m":0.16},{"f":194610,"m":0.19}
]
},
"vconcat": [
{
  "width": 706, "height": 121,
  "title": {"text": "Card 1 Grounded Input Noise\u00a0 Mean: 0.821 Std Dev: 4.6963"},
  "data": {"name": "ts"},
  "mark": {"type": "line", "strokeWidth": 1.1, "clip": true},
  "encoding": {
    "x": {"field": "s", "type": "quantitative", "title": "Sample", "scale": {"domain": [0, 1000], "nice": false, "zero": false}, "axis": {"values": [0, 200, 400, 600, 800, 1000]}},
    "y": {"field": "v", "type": "quantitative", "title": "ADC Register", "scale": {"domain": [-13, 14], "nice": false, "zero": false}, "axis": {"values": [-10, 0, 10]}},
    "color": {"datum": "Ch1", "type": "nominal", "scale": {"range": ["#0072BD"]}, "legend": {"legendX": 571, "legendY": 13, "symbolType": "stroke", "symbolStrokeWidth": 1.3}}
  }
},
{
  "width": 706, "height": 124,
  "title": {"text": "Card 1 Grounded Input Noise Min: -13 Max: 14"},
  "data": {"name": "hist"},
  "mark": {"type": "bar", "stroke": "#1a1a1a", "strokeWidth": 0.8},
  "encoding": {
    "x": {"field": "lo", "type": "quantitative", "title": "ADC Register", "scale": {"domain": [-15, 15], "nice": false, "zero": false}, "axis": {"values": [-15, -10, -5, 0, 5, 10, 15]}},
    "x2": {"field": "hi"},
    "y": {"field": "c", "type": "quantitative", "title": "Count", "scale": {"domain": [0, 100], "nice": false}, "axis": {"values": [0, 50, 100]}},
    "y2": {"datum": 0},
    "color": {"datum": "Ch1", "type": "nominal", "scale": {"range": ["#3b28a6"]}, "legend": {"legendX": 571, "legendY": 14, "symbolType": "M-1,-0.25H1V0.25H-1Z", "symbolStrokeColor": "#1a1a1a", "symbolStrokeWidth": 0.8, "symbolOpacity": 1}}
  }
},
{
  "width": 706, "height": 121,
  "title": {"text": "Card 1 Grounded Input Noise RMS: 4.6939"},
  "layer": [
    {
      "data": {"name": "fft"},
      "mark": {"type": "line", "strokeWidth": 1.1, "clip": true},
      "encoding": {
        "x": {"field": "f", "type": "quantitative", "title": "Frequency", "scale": {"domain": [0, 200000], "nice": false, "zero": false}, "axis": {"values": [0, 50000, 100000, 150000, 200000], "labelExpr": "'' + (datum.value / 100000)"}},
        "y": {"field": "m", "type": "quantitative", "title": "Magnitude", "scale": {"domain": [0, 1], "nice": false}, "axis": {"values": [0, 0.5, 1]}},
        "color": {"datum": "Ch1", "type": "nominal", "scale": {"range": ["#0072BD"]}, "legend": {"legendX": 571, "legendY": 11, "symbolType": "stroke", "symbolStrokeWidth": 1.3}}
      }
    },
    {
      "data": {"values": [{"t": "×10⁵"}]},
      "mark": {"type": "text", "align": "right", "baseline": "middle", "dx": 6, "dy": 49, "fontSize": 19, "font": "DejaVu Sans", "color": "#262626"},
      "encoding": {
        "text": {"field": "t"},
        "x": {"datum": 200000},
        "y": {"datum": 0}
      }
    }
  ]
}
]
}
